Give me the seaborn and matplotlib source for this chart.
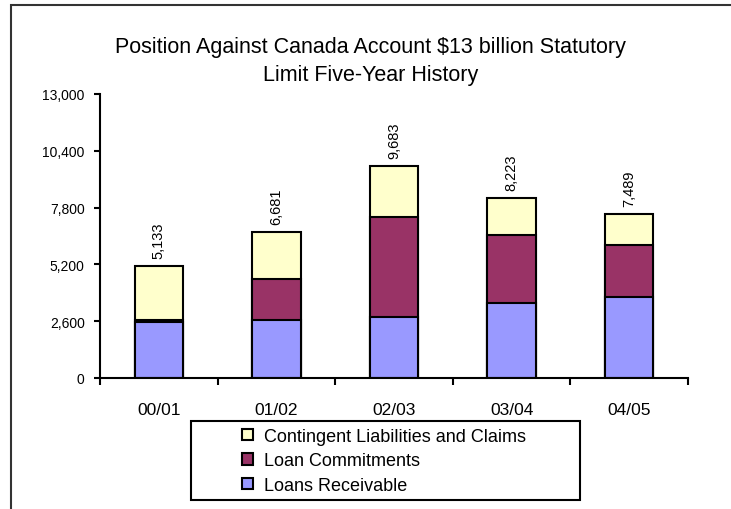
import matplotlib
matplotlib.use("Agg")
import matplotlib.pyplot as plt
import seaborn as sns
import pandas as pd
import numpy as np
from matplotlib.patches import Rectangle, Patch
from matplotlib.ticker import FuncFormatter

years = ["00/01", "01/02", "02/03", "03/04", "04/05"]
loans_receivable = [2580, 2650, 2770, 3430, 3720]
loan_commitments = [60, 1900, 4590, 3100, 2390]
contingent = [2493, 2131, 2323, 1693, 1379]
totals = [5133, 6681, 9683, 8223, 7489]
total_labels = ["5,133", "6,681", "9,683", "8,223", "7,489"]
yticks = [0, 2600, 5200, 7800, 10400, 13000]

series_names = ["Contingent Liabilities and Claims", "Loan Commitments", "Loans Receivable"]
colors = {"Contingent Liabilities and Claims": "#FFFFCC",
          "Loan Commitments": "#993366",
          "Loans Receivable": "#9999FF"}

sns.set_theme(style="white")
plt.rcParams['font.family'] = ['Liberation Sans', 'DejaVu Sans']
for k in ["text.color", "axes.labelcolor", "xtick.color", "ytick.color"]:
    plt.rcParams[k] = "black"

fig = plt.figure(figsize=(7.31, 5.10), dpi=100)
ax = fig.add_axes([100/731, 1-379/510, 588/731, (379-95)/510])

df = pd.DataFrame({"year": years,
                   "lr": loans_receivable,
                   "lc": loan_commitments,
                   "cl": contingent})
df["top"] = df["lr"] + df["lc"] + df["cl"]
df["mid"] = df["lr"] + df["lc"]

# cumulative stacking: draw the tallest first, then overlay the lower segments
for col, name in [("top", series_names[0]), ("mid", series_names[1]), ("lr", series_names[2])]:
    sns.barplot(data=df, x="year", y=col, color=colors[name], saturation=1,
                width=0.41, edgecolor="black", linewidth=1.5, ax=ax, errorbar=None)

for i, (t, lab) in enumerate(zip(totals, total_labels)):
    ax.annotate(lab, xy=(i, t), xytext=(0, 6), textcoords="offset points",
                rotation=90, ha="center", va="bottom", fontsize=10.5, color="black")

ax.set_ylim(0, 13000)
ax.set_xlim(-0.5, 4.5)
ax.set_yticks(yticks)
ax.yaxis.set_major_formatter(FuncFormatter(lambda v, p: f"{int(v):,}"))
ax.set_xlabel("")
ax.set_ylabel("")
for s in ["top", "right"]:
    ax.spines[s].set_visible(False)
for s in ["left", "bottom"]:
    ax.spines[s].set_color("black")
    ax.spines[s].set_linewidth(1.5)
ax.tick_params(axis="y", which="both", left=True, length=4, width=1.5, color="black",
               labelsize=10, pad=7, direction="out", labelcolor="black")
ax.tick_params(axis="x", which="major", bottom=False, labelsize=12.5, pad=11, labelcolor="black")
ax.set_xticks(np.arange(-0.5, 5.0, 1.0), minor=True)
ax.tick_params(axis="x", which="minor", bottom=True, length=5, width=1.5, color="black",
               direction="out")

fig.text(370.5/731, 1-47/510, "Position Against Canada Account $13 billion Statutory",
         ha="center", va="center", fontsize=15.5, color="black")
fig.text(370.5/731, 1-75/510, "Limit Five-Year History", ha="center", va="center",
         fontsize=15.5, color="black")

handles = [Patch(facecolor=colors[n], edgecolor="black", linewidth=1.5) for n in series_names]
leg = fig.legend(handles, series_names, loc="center left",
                 bbox_to_anchor=(242/731, 1-462/510), fontsize=13, frameon=False,
                 handlelength=0.6, handleheight=0.6,
                 handletextpad=0.6, labelspacing=0.42, borderpad=0, borderaxespad=0)
for t in leg.get_texts():
    t.set_color("black")

fig.patches.append(Rectangle((191/731, 1-501/510), (580-191)/731, (501-422)/510,
                             transform=fig.transFigure, fill=False,
                             edgecolor="black", linewidth=1.5))

fig.patches.append(Rectangle((11/731, -0.2), 2.0, 1.2 - 6/510, transform=fig.transFigure,
                             fill=False, edgecolor="#333333", linewidth=1.5))

fig.savefig("out.png", dpi=100, facecolor="white")
